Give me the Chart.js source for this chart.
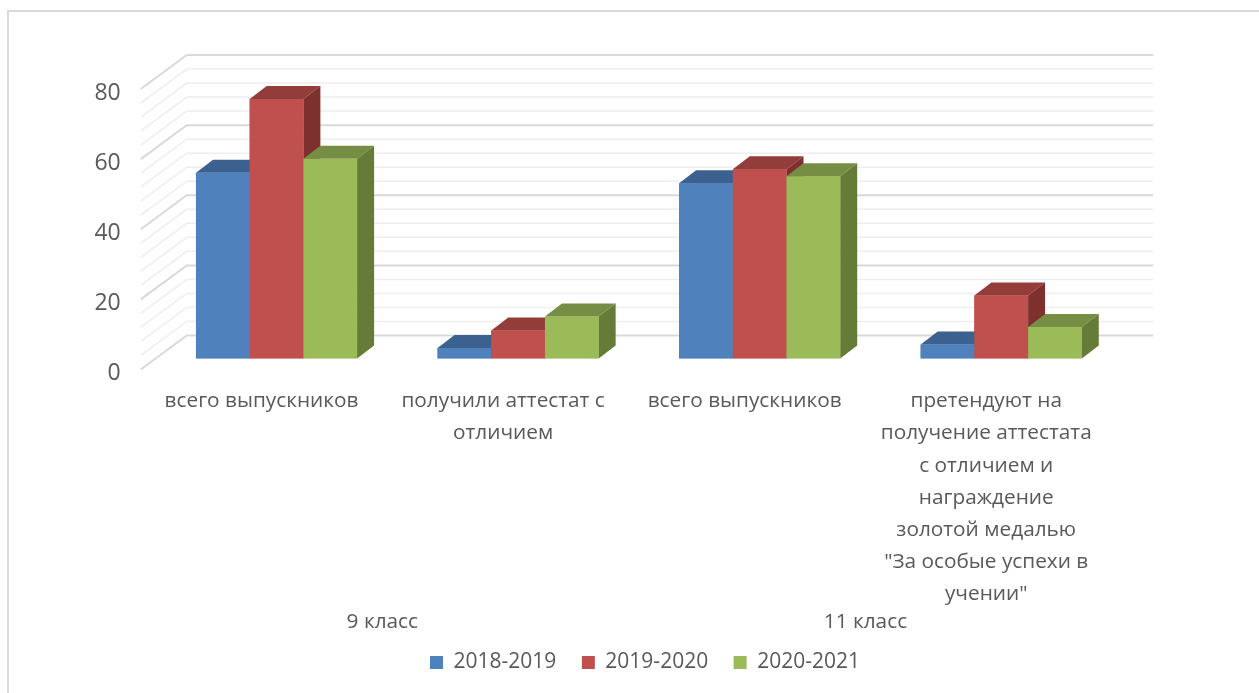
<!DOCTYPE html>
<html>
<head>
<meta charset="utf-8">
<style>
  html, body { margin: 0; padding: 0; background: #fff; overflow: hidden; }
  #wrap { position: absolute; left: 0; top: 0; width: 1259px; height: 693px; }
  #frame { position: absolute; left: 7px; top: 10px; width: 1250px; height: 681px; border-left: 2px solid #d9d9d9; border-top: 2px solid #d9d9d9; }
</style>
<script src="https://cdn.jsdelivr.net/npm/chart.js@4"></script>
</head>
<body>
<div id="frame"></div>
<div id="wrap"><canvas id="chart"></canvas></div>
<script>
const categories = [
  ['всего выпускников'],
  ['получили аттестат с', 'отличием'],
  ['всего выпускников'],
  ['претендуют на', 'получение аттестата', 'с отличием и', 'награждение', 'золотой медалью', '"За особые успехи в', 'учении"']
];
const groups = ['9 класс', '11 класс'];
const seriesNames = ['2018-2019', '2019-2020', '2020-2021'];
const values2018 = [53, 3, 50, 4];
const values2019 = [74, 8, 54, 18];
const values2020 = [57, 12, 52, 9];
const yTicks = [0, 20, 40, 60, 80];

const textColor = '#595959';
const fontName = '"Open Sans", sans-serif';
const fontSize = 20.8;
const labelShift = -15;

// front, top and side colours of each series
const faces = [
  { front: '#4f81bd', top: '#3d618f', side: '#2f4d73' },
  { front: '#c0504d', top: '#923d3a', side: '#7d302e' },
  { front: '#9bbb59', top: '#768e43', side: '#667b37' }
];

// back wall and left wall are not something Chart.js has, so they are drawn off the y scale
const wallPlugin = {
  id: 'wall',
  beforeDatasetsDraw(chart) {
    const { ctx, chartArea, scales: { y } } = chart;
    ctx.save();
    for (let v = 0; v <= 80; v += 4) {
      const py = y.getPixelForValue(v);
      const major = v % 20 === 0;
      ctx.strokeStyle = major ? '#d9d9d9' : '#eeeeee';
      ctx.lineWidth = major ? 2 : 1.5;
      ctx.beginPath();
      ctx.moveTo(chartArea.left - 15, py + 11);
      ctx.lineTo(chartArea.left + 31, py - 23);
      ctx.lineTo(chartArea.right + 31, py - 23);
      ctx.stroke();
    }
    ctx.restore();
  }
};

// fake 3D: top and side face for each bar, using the bar elements' own geometry
const depthPlugin = {
  id: 'depth',
  afterDatasetsDraw(chart) {
    const ctx = chart.ctx;
    const dx = 17, dy = -13;
    const n = chart.data.labels.length;
    ctx.save();
    for (let i = 0; i < n; i++) {
      chart.data.datasets.forEach((ds, d) => {
        const bar = chart.getDatasetMeta(d).data[i];
        const l = bar.x - bar.width / 2, r = bar.x + bar.width / 2;
        const t = bar.y, b = bar.base;
        ctx.fillStyle = faces[d].top;
        ctx.beginPath();
        ctx.moveTo(l, t); ctx.lineTo(l + dx, t + dy); ctx.lineTo(r + dx, t + dy); ctx.lineTo(r, t);
        ctx.closePath(); ctx.fill();
        ctx.fillStyle = faces[d].side;
        ctx.beginPath();
        ctx.moveTo(r, t); ctx.lineTo(r + dx, t + dy); ctx.lineTo(r + dx, b + dy); ctx.lineTo(r, b);
        ctx.closePath(); ctx.fill();
        ctx.fillStyle = faces[d].front;
        ctx.fillRect(l, t, r - l, b - t);
      });
    }
    ctx.restore();
  }
};

// second row of the category axis
const groupPlugin = {
  id: 'groupLabels',
  afterDraw(chart) {
    const { ctx, scales: { x } } = chart;
    ctx.save();
    ctx.fillStyle = textColor;
    ctx.font = fontSize + 'px ' + fontName;
    ctx.textAlign = 'center';
    ctx.textBaseline = 'middle';
    groups.forEach((g, i) => {
      const cx = (x.getPixelForValue(i * 2) + x.getPixelForValue(i * 2 + 1)) / 2 + labelShift;
      ctx.fillText(g, cx, 622);
    });
    ctx.restore();
  }
};

const allValues = [values2018, values2019, values2020];

new Chart(document.getElementById('chart'), {
  type: 'bar',
  data: {
    labels: categories,
    datasets: seriesNames.map((name, i) => ({
      label: name,
      data: allValues[i],
      backgroundColor: faces[i].front,
      borderWidth: 0,
      categoryPercentage: 0.667,
      barPercentage: 1
    }))
  },
  options: {
    responsive: true,
    maintainAspectRatio: false,
    animation: false,
    // left padding only centres the legend where the original has it
    layout: { padding: { top: 78, right: 0, bottom: 10, left: 31 } },
    plugins: {
      tooltip: { enabled: false },
      legend: {
        position: 'bottom',
        labels: {
          color: textColor,
          boxWidth: 13,
          boxHeight: 13,
          padding: 25.5,
          font: { family: fontName, size: 21 }
        }
      }
    },
    scales: {
      x: {
        grid: { display: false },
        border: { display: false },
        ticks: {
          color: textColor,
          font: { family: fontName, size: fontSize, lineHeight: 1.54 },
          maxRotation: 0,
          autoSkip: false,
          padding: 19,
          labelOffset: labelShift
        },
        afterFit(scale) { scale.height = 268; }
      },
      y: {
        min: 0,
        max: 80,
        grid: { display: false },
        border: { display: false },
        afterBuildTicks(scale) { scale.ticks = yTicks.map(v => ({ value: v })); },
        ticks: {
          color: textColor,
          font: { family: fontName, size: 23 },
          padding: 27,
          labelOffset: 15
        },
        afterFit(scale) { scale.width = 124.75; }
      },
      // empty axis, it only reserves the room to the right of the bars
      spacer: {
        axis: 'y',
        position: 'right',
        grid: { display: false },
        border: { display: false },
        ticks: { display: false },
        afterFit(scale) { scale.width = 137; }
      }
    }
  },
  plugins: [wallPlugin, depthPlugin, groupPlugin]
});
</script>
</body>
</html>
